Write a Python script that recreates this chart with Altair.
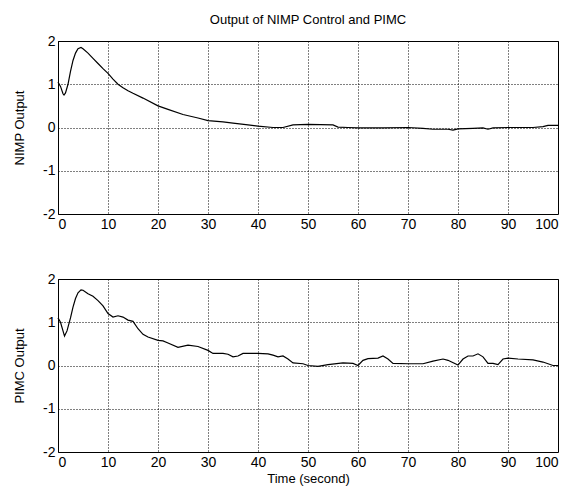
import altair as alt
import pandas as pd

# NIMP control output (top panel)
t_nimp = [0, 0.5, 1, 1.2, 1.5, 2, 2.5, 3, 3.5, 4, 4.6, 5, 6, 7, 8, 9, 10, 11, 12, 13,
          14, 15, 17, 20, 22, 25, 28, 30, 33, 35, 38, 40, 43, 45, 47, 50, 55, 56, 58, 60,
          65, 70, 73, 75, 78, 79, 80, 83, 85, 86, 87, 90, 95, 97, 98, 100]
y_nimp = [1.05, 0.95, 0.78, 0.75, 0.8, 1.0, 1.3, 1.55, 1.72, 1.82, 1.85, 1.82, 1.72, 1.6, 1.48,
          1.36, 1.25, 1.12, 1.0, 0.92, 0.85, 0.79, 0.68, 0.5, 0.42, 0.3, 0.22, 0.16, 0.13, 0.1,
          0.06, 0.03, 0.0, 0.0, 0.06, 0.07, 0.06, 0.01, 0.0, -0.01, -0.01, 0.0, -0.02, -0.04,
          -0.04, -0.06, -0.03, -0.02, -0.01, -0.04, -0.01, 0.0, 0.0, 0.02, 0.05, 0.05]

# PIMC output (bottom panel)
t_pimc = [0, 0.5, 1, 1.3, 1.8, 2.5, 3, 3.5, 4, 4.6, 5, 6, 7, 8, 9, 10, 11, 12, 13, 14,
          15, 16, 17, 18, 20, 21, 22, 24, 26, 28, 30, 31, 33, 34, 35, 36, 37, 40, 42, 43,
          44, 45, 46, 47, 49, 50, 52, 54, 57, 59, 60, 61, 62, 64, 65, 66, 67, 70, 73, 75,
          77, 78, 80, 81, 82, 83, 84, 85, 86, 87, 88, 89, 90, 92, 95, 97, 99, 100]
y_pimc = [1.1, 1.0, 0.8, 0.68, 0.8, 1.1, 1.35, 1.55, 1.68, 1.75, 1.74, 1.66, 1.6, 1.5, 1.38,
          1.2, 1.12, 1.15, 1.12, 1.05, 1.02, 0.85, 0.72, 0.66, 0.58, 0.57, 0.52, 0.42, 0.47, 0.44,
          0.35, 0.28, 0.28, 0.26, 0.2, 0.22, 0.28, 0.28, 0.27, 0.24, 0.2, 0.22, 0.15, 0.06, 0.04,
          0.0, -0.02, 0.02, 0.06, 0.05, 0.0, 0.12, 0.16, 0.17, 0.22, 0.15, 0.05, 0.04, 0.04, 0.1,
          0.15, 0.12, 0.01, 0.15, 0.22, 0.22, 0.27, 0.2, 0.05, 0.05, 0.02, 0.15, 0.17, 0.15, 0.13,
          0.08, 0.0, 0.0]

x_ticks = [0, 10, 20, 30, 40, 50, 60, 70, 80, 90, 100]
y_ticks = [-2, -1, 0, 1, 2]

df_nimp = pd.DataFrame({"t": t_nimp, "y": y_nimp})
df_pimc = pd.DataFrame({"t": t_pimc, "y": y_pimc})

W, H = 500, 173


def panel(df, ytitle, xtitle):
    if xtitle:
        xaxis = alt.Axis(values=x_ticks, title=xtitle)
    else:
        xaxis = alt.Axis(values=x_ticks, title=None)
    return alt.Chart(df).mark_line(color="black", strokeWidth=1.2).encode(
        x=alt.X("t:Q", scale=alt.Scale(domain=[0, 100], nice=False), axis=xaxis),
        y=alt.Y("y:Q", scale=alt.Scale(domain=[-2, 2], nice=False),
                axis=alt.Axis(values=y_ticks, title=ytitle,
                              labelExpr="toString(datum.value)")),
    ).properties(width=W, height=H)


top = panel(df_nimp, "NIMP Output", None).properties(
    title=alt.TitleParams("Output of NIMP Control and PIMC", anchor="middle",
                          fontSize=13, fontWeight="normal", offset=7, color="black")
)
bottom = panel(df_pimc, "PIMC Output", "Time (second)")

chart = alt.vconcat(top, bottom, spacing=39).configure(
    font="Liberation Sans"
).configure_view(
    stroke="black", strokeWidth=1
).configure_axis(
    domain=False,
    ticks=False,
    grid=True,
    gridColor="black",
    gridDash=[1, 2],
    gridOpacity=1,
    gridWidth=1,
    labelColor="black",
    labelFontSize=14,
    labelPadding=3,
    titleColor="black",
    titleFontSize=13,
    titleFontWeight="normal",
).configure_axisY(
    titlePadding=16,
).configure_axisX(
    titlePadding=3,
)

chart.save("out.html", embed_options={"renderer": "svg", "actions": False})
